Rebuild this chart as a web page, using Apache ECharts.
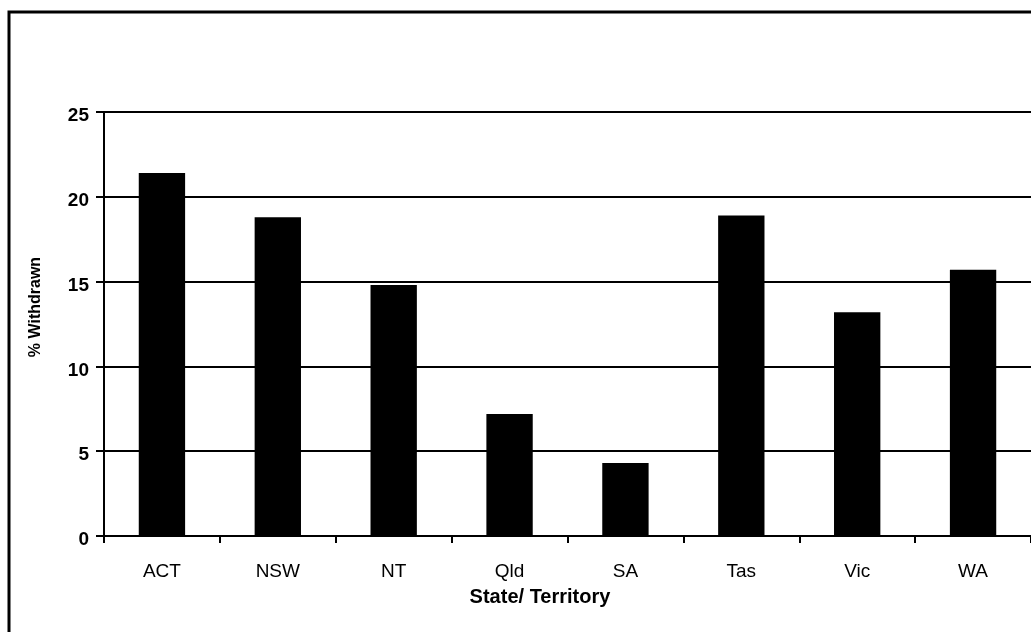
<!DOCTYPE html>
<html>
<head>
<meta charset="utf-8">
<script src="https://cdn.jsdelivr.net/npm/echarts@6/dist/echarts.min.js"></script>
<style>
  html, body { margin: 0; padding: 0; background: #fff; overflow: hidden; }
  #chart { width: 1031px; height: 632px; }
</style>
</head>
<body>
<div id="chart"></div>
<script>
// Share of enrolments withdrawn, by state / territory
const states = ['ACT', 'NSW', 'NT', 'Qld', 'SA', 'Tas', 'Vic', 'WA'];
const withdrawnPct = [21.4, 18.8, 14.8, 7.2, 4.3, 18.9, 13.2, 15.7];
const yTicks = [0, 5, 10, 15, 20, 25];

const FONT = '"Liberation Sans", Arial, sans-serif';

const chart = echarts.init(document.getElementById('chart'), null, { renderer: 'canvas' });

chart.setOption({
  backgroundColor: '#ffffff',
  animation: false,
  grid: { left: 104, right: -3, top: 112, bottom: 96, containLabel: false },
  xAxis: {
    type: 'category',
    data: states,
    axisLine: { show: true, lineStyle: { color: '#000', width: 2 } },
    axisTick: { show: true, alignWithLabel: false, length: 7, lineStyle: { color: '#000', width: 2 } },
    axisLabel: { color: '#000', fontFamily: FONT, fontSize: 19, margin: 26 },
    splitLine: { show: false }
  },
  yAxis: {
    type: 'value',
    min: yTicks[0],
    max: yTicks[yTicks.length - 1],
    interval: yTicks[1] - yTicks[0],
    axisLine: { show: true, lineStyle: { color: '#000', width: 2 } },
    axisTick: { show: true, length: 8, lineStyle: { color: '#000', width: 2 } },
    axisLabel: {
      color: '#000', fontFamily: FONT, fontSize: 19, fontWeight: 'bold',
      margin: 15, verticalAlign: 'top', lineHeight: 8
    },
    splitLine: { show: true, lineStyle: { color: '#000', width: 2 } }
  },
  series: [{
    type: 'bar',
    data: withdrawnPct,
    barWidth: '40%',
    itemStyle: { color: '#000' }
  }],
  graphic: [
    {
      type: 'rect',
      shape: { x: 9, y: 12, width: 1200, height: 800 },
      style: { fill: null, stroke: '#000', lineWidth: 3 },
      silent: true
    },
    {
      type: 'text',
      x: 36, y: 307, rotation: Math.PI / 2,
      style: {
        text: '% Withdrawn', fill: '#000', font: 'bold 16px ' + FONT,
        textAlign: 'center', textVerticalAlign: 'middle'
      }
    },
    {
      type: 'text',
      x: 540, y: 597,
      style: {
        text: 'State/ Territory', fill: '#000', font: 'bold 20px ' + FONT,
        textAlign: 'center', textVerticalAlign: 'middle'
      }
    }
  ]
});
</script>
</body>
</html>
